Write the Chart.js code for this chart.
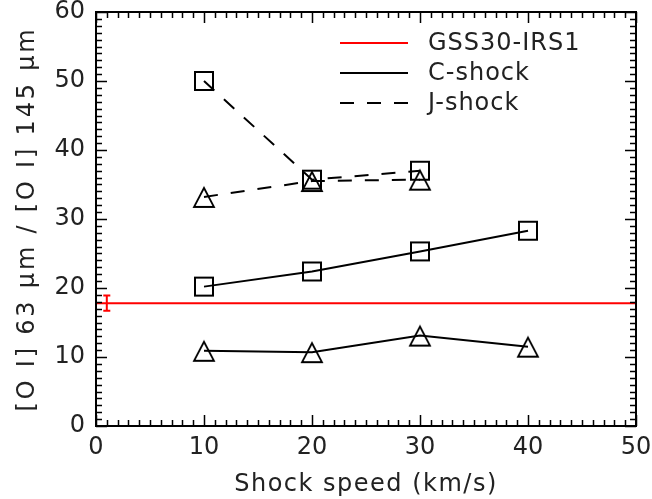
<!DOCTYPE html>
<html><head><meta charset="utf-8">
<script src="https://cdn.jsdelivr.net/npm/chart.js@4.4.1/dist/chart.umd.min.js"></script>
<style>html,body{margin:0;padding:0;background:#fff;}#wrap{width:652px;height:499px;}</style>
</head><body><div id="wrap"><canvas id="c" width="652" height="499"></canvas></div>
<script>
// ---- data ----
const speedsC = [10, 20, 30, 40];
const speedsJ = [10, 20, 30];
const cShockSquare = [20.2, 22.4, 25.3, 28.3];
const cShockTriangle = [10.9, 10.7, 13.1, 11.5];
const jShockSquare = [50.0, 35.7, 37.0];
const jShockTriangle = [33.2, 35.5, 35.7];
const gssRatio = 17.8;
const gssErrLow = 16.7;
const gssErrHigh = 18.9;
const gssErrX = 1;
const xRange = [0, 50];
const yRange = [0, 60];
const majorStep = 10;
const minorStep = 1;
const legendLabels = ['GSS30-IRS1', 'C-shock', 'J-shock'];
const xTitle = 'Shock speed (km/s)';
const yTitle = '[O I] 63 \u03bcm / [O I] 145 \u03bcm';

const FONT = "'DejaVu Sans', sans-serif";
const TXT = '#222';
const DASH = [14, 13];

function squareMarker() {
  const c = document.createElement('canvas'); c.width = 24; c.height = 24;
  const g = c.getContext('2d'); g.strokeStyle = '#000'; g.lineWidth = 2;
  g.strokeRect(3, 3, 18, 18); return c;
}
function triangleMarker() {
  const c = document.createElement('canvas'); c.width = 30; c.height = 30;
  const g = c.getContext('2d'); g.strokeStyle = '#000'; g.lineWidth = 1.8; g.lineJoin = 'miter';
  g.beginPath(); g.moveTo(15, 6); g.lineTo(25, 25); g.lineTo(5, 25); g.closePath(); g.stroke(); return c;
}
const sq = squareMarker(), tri = triangleMarker();
const pts = (xs, ys) => xs.map((x, i) => ({x, y: ys[i]}));

const frameTicks = {
  id: 'frameTicks',
  afterDatasetsDraw(chart) {
    const {ctx, chartArea: a, scales: {x, y}} = chart;
    ctx.save();
    ctx.strokeStyle = '#000';
    ctx.lineWidth = 1.5;
    ctx.beginPath();
    for (let v = xRange[0]; v <= xRange[1]; v += minorStep) {
      const px = Math.round(x.getPixelForValue(v)) + 0.5;
      const len = (v % majorStep === 0) ? 11 : 6;
      ctx.moveTo(px, a.bottom); ctx.lineTo(px, a.bottom - len);
      ctx.moveTo(px, a.top); ctx.lineTo(px, a.top + len);
    }
    for (let v = yRange[0]; v <= yRange[1]; v += minorStep) {
      const py = Math.round(y.getPixelForValue(v)) + 0.5;
      const len = (v % majorStep === 0) ? 11 : 6;
      ctx.moveTo(a.left, py); ctx.lineTo(a.left + len, py);
      ctx.moveTo(a.right, py); ctx.lineTo(a.right - len, py);
    }
    ctx.stroke();
    ctx.lineWidth = 2;
    ctx.strokeRect(a.left, a.top, a.right - a.left, a.bottom - a.top);
    // error bar of the observed ratio
    const ex = x.getPixelForValue(gssErrX);
    const y1 = y.getPixelForValue(gssErrLow), y2 = y.getPixelForValue(gssErrHigh);
    ctx.strokeStyle = 'rgb(255,0,0)';
    ctx.lineWidth = 2;
    ctx.beginPath();
    ctx.moveTo(ex, y1); ctx.lineTo(ex, y2);
    ctx.moveTo(ex - 3.5, y1); ctx.lineTo(ex + 3.5, y1);
    ctx.moveTo(ex - 3.5, y2); ctx.lineTo(ex + 3.5, y2);
    ctx.stroke();
    ctx.restore();
  },
  afterDraw(chart) {
    const {ctx} = chart;
    const styles = [
      {color: 'rgb(255,0,0)', dash: []},
      {color: '#000', dash: []},
      {color: '#000', dash: DASH}
    ];
    ctx.save();
    ctx.font = '24px ' + FONT;
    ctx.textBaseline = 'middle';
    ctx.textAlign = 'left';
    legendLabels.forEach((lab, i) => {
      const yy = 43 + i * 30;
      ctx.strokeStyle = styles[i].color;
      ctx.lineWidth = 2;
      ctx.setLineDash(styles[i].dash);
      ctx.beginPath(); ctx.moveTo(340, yy); ctx.lineTo(408, yy); ctx.stroke();
      ctx.setLineDash([]);
      ctx.fillStyle = TXT;
      try { ctx.letterSpacing = '1px'; } catch (e) {}
      ctx.fillText(lab, 428, yy + 1);
    });
    ctx.restore();
  },
  beforeDraw(chart) {
    Object.values(chart.scales).forEach(s => {
      if (s._patchedTitle) return;
      const orig = s.drawTitle.bind(s);
      s.drawTitle = function () {
        const ctx = this.ctx; ctx.save();
        try { ctx.letterSpacing = (this.axis === 'y' ? '2.8px' : '1.5px'); } catch (e) {}
        orig(); ctx.restore();
      };
      s._patchedTitle = true;
    });
  }
};

new Chart(document.getElementById('c'), {
  type: 'line',
  data: {
    datasets: [
      {label: legendLabels[0], data: pts([xRange[0], xRange[1]], [gssRatio, gssRatio]),
       borderColor: 'rgb(255,0,0)', borderWidth: 2, pointRadius: 0},
      {label: 'C-shock squares', data: pts(speedsC, cShockSquare), borderColor: '#000', borderWidth: 2,
       pointStyle: sq, pointRadius: 10},
      {label: 'C-shock triangles', data: pts(speedsC, cShockTriangle), borderColor: '#000', borderWidth: 2,
       pointStyle: tri, pointRadius: 10},
      {label: 'J-shock squares', data: pts(speedsJ, jShockSquare), borderColor: '#000', borderWidth: 2,
       borderDash: DASH, pointStyle: sq, pointRadius: 10},
      {label: 'J-shock triangles', data: pts(speedsJ, jShockTriangle), borderColor: '#000', borderWidth: 2,
       borderDash: DASH, pointStyle: tri, pointRadius: 10}
    ]
  },
  options: {
    responsive: false,
    animation: false,
    devicePixelRatio: 1,
    layout: {padding: {top: 6, right: 16, left: 0, bottom: 0}},
    plugins: {legend: {display: false}, tooltip: {enabled: false}},
    elements: {line: {tension: 0, fill: false}},
    scales: {
      x: {
        type: 'linear', min: xRange[0], max: xRange[1],
        grid: {display: false}, border: {display: false},
        ticks: {stepSize: majorStep, color: TXT, padding: -1, font: {family: FONT, size: 24}, maxRotation: 0},
        title: {display: true, text: xTitle, color: TXT, font: {family: FONT, size: 24}, padding: {top: 0, bottom: 0}},
        afterFit(s) { s.height = 73; s.paddingLeft = 0; s.paddingRight = 0; }
      },
      y: {
        type: 'linear', min: yRange[0], max: yRange[1],
        grid: {display: false}, border: {display: false},
        ticks: {stepSize: majorStep, color: TXT, padding: 3, font: {family: FONT, size: 24}},
        title: {display: true, text: yTitle, color: TXT, font: {family: FONT, size: 24}, padding: {top: 13, bottom: 0}},
        afterFit(s) { s.width = 96; s.paddingTop = 0; s.paddingBottom = 0; }
      }
    }
  },
  plugins: [frameTicks]
});
</script></body></html>
